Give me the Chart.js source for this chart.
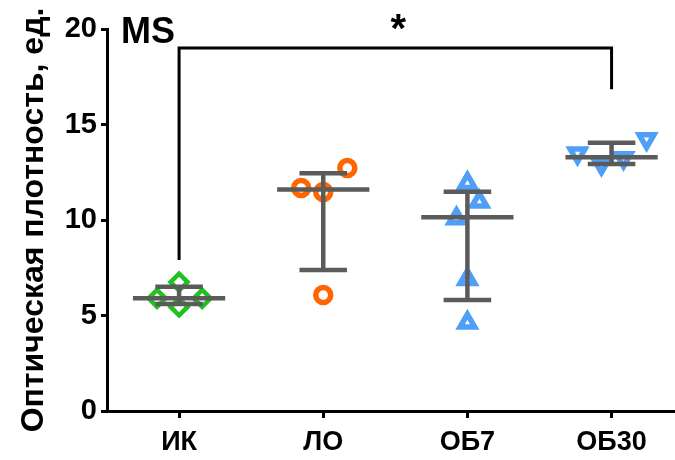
<!DOCTYPE html>
<html>
<head>
<meta charset="utf-8">
<script src="https://cdn.jsdelivr.net/npm/chart.js@4"></script>
<style>
  html, body { margin: 0; padding: 0; background: #fff; }
  #wrap { width: 675px; height: 460px; }
</style>
</head>
<body>
<div id="wrap"><canvas id="chart" width="675" height="460"></canvas></div>
<script>
// groups along x
const groups = ["ИК", "ЛО", "ОБ7", "ОБ30"];
const groupPos = [1, 2, 3, 4];

// individual values per group
const valsIK = [6.75, 5.9, 5.9, 5.45];
const valsLO = [11.68, 11.47, 12.72, 6.07];
const valsOB7 = [11.93, 10.95, 10.08, 6.9, 4.62];
const valsOB30 = [13.49, 12.93, 13.24, 14.24];

// horizontal scatter of the points, in category units
const jitIK = [0, -0.153, 0.16, 0];
const jitLO = [-0.153, 0, 0.167, 0];
const jitOB7 = [0, 0.083, -0.076, 0, 0];
const jitOB30 = [-0.236, -0.07, 0.083, 0.243];

// median with interquartile range
const medians = [5.9, 11.6, 10.15, 13.28];
const q1 = [5.6, 7.38, 5.81, 12.93];
const q3 = [6.5, 12.45, 11.48, 14.05];

// significance bracket between ИК and ОБ30
const sigFrom = 1, sigTo = 4;
const sigLevel = 19.0;
const sigLeftEnd = 7.9, sigRightEnd = 16.85;

const yTicks = [0, 5, 10, 15, 20];

const FONT = "'Liberation Sans', Arial, sans-serif";

function pts(vals, jit, pos) {
    return vals.map((v, i) => ({ x: pos + jit[i], y: v }));
}

// error bar geometry built from the summary arrays
const medW = 0.32, capW = 0.165;
const barData = [];
groupPos.forEach((p, i) => {
    barData.push({ x: p, y: q1[i] }, { x: p, y: q3[i] }, { x: p, y: null });
    barData.push({ x: p - capW, y: q3[i] }, { x: p + capW, y: q3[i] }, { x: p, y: null });
    barData.push({ x: p - capW, y: q1[i] }, { x: p + capW, y: q1[i] }, { x: p, y: null });
    barData.push({ x: p - medW, y: medians[i] }, { x: p + medW, y: medians[i] }, { x: p, y: null });
});

const bracket = [
    { x: sigFrom, y: sigLeftEnd }, { x: sigFrom, y: sigLevel },
    { x: sigTo, y: sigLevel }, { x: sigTo, y: sigRightEnd }
];

const green = "#1fc21f", orange = "#ff6600", blue = "#4f9ef8", gray = "#5b5b5b";

const textPlugin = {
    id: "labels",
    afterDraw(chart) {
        const ctx = chart.ctx;
        const xs = chart.scales.x;
        ctx.save();
        ctx.fillStyle = "#000";
        ctx.font = "bold 36px " + FONT;
        ctx.textAlign = "left";
        ctx.textBaseline = "alphabetic";
        ctx.fillText("MS", 121, 43);
        ctx.font = "bold 40px " + FONT;
        ctx.textAlign = "center";
        ctx.fillText("*", xs.getPixelForValue((sigFrom + sigTo) / 2) + 3, 42);
        ctx.restore();
    }
};

new Chart(document.getElementById("chart"), {
    type: "scatter",
    data: {
        datasets: [
            {
                type: "line", data: bracket, borderColor: "#000", borderWidth: 3,
                pointRadius: 0, fill: false, tension: 0, borderJoinStyle: "miter"
            },
            {
                type: "line", data: barData, borderColor: gray, borderWidth: 4.5,
                pointRadius: 0, fill: false, spanGaps: false, tension: 0, borderCapStyle: "butt"
            },
            {
                data: pts(valsIK, jitIK, groupPos[0]), pointStyle: "rectRot",
                pointRadius: 8.5, borderWidth: 4.5, borderColor: green, backgroundColor: "#fff"
            },
            {
                data: pts(valsLO, jitLO, groupPos[1]), pointStyle: "circle",
                pointRadius: 7.5, borderWidth: 5.5, borderColor: orange, backgroundColor: "#fff"
            },
            {
                data: pts(valsOB7, jitOB7, groupPos[2]), pointStyle: "triangle",
                pointRadius: 8.5, borderWidth: 5.5, borderColor: blue, backgroundColor: "#fff"
            },
            {
                data: pts(valsOB30, jitOB30, groupPos[3]), pointStyle: "triangle", rotation: 180,
                pointRadius: 8.5, borderWidth: 5.5, borderColor: blue, backgroundColor: "#fff"
            }
        ]
    },
    options: {
        responsive: false,
        animation: false,
        clip: false,
        layout: { autoPadding: false, padding: { top: 29, right: 0, left: 0, bottom: 0 } },
        plugins: { legend: { display: false }, tooltip: { enabled: false } },
        scales: {
            x: {
                type: "linear",
                min: 0.5,
                max: 4.44,
                afterBuildTicks: (axis) => { axis.ticks = groupPos.map(v => ({ value: v })); },
                afterFit: (axis) => { axis.height = 49; axis.paddingLeft = 0; axis.paddingRight = 0; },
                grid: { display: true, drawOnChartArea: false, drawTicks: true, tickLength: 7, tickColor: "#000", tickWidth: 3 },
                border: { display: true, color: "#000", width: 3 },
                ticks: {
                    color: "#000", padding: 8, maxRotation: 0,
                    font: { family: FONT, size: 27, weight: "bold" },
                    callback: (v) => groups[groupPos.indexOf(v)]
                }
            },
            y: {
                min: 0,
                max: 20,
                afterBuildTicks: (axis) => { axis.ticks = yTicks.map(v => ({ value: v })); },
                afterFit: (axis) => { axis.width = 107; },
                grid: { display: true, drawOnChartArea: false, drawTicks: true, tickLength: 6, tickColor: "#000", tickWidth: 3 },
                border: { display: true, color: "#000", width: 3 },
                ticks: {
                    color: "#000", padding: 4,
                    font: { family: FONT, size: 29, weight: "bold" }
                },
                title: {
                    display: true,
                    text: "Оптическая плотность, ед.",
                    color: "#000",
                    padding: { top: 15, bottom: 0 },
                    font: { family: FONT, size: 32, weight: "bold" }
                }
            }
        }
    },
    plugins: [textPlugin]
});
</script>
</body>
</html>
